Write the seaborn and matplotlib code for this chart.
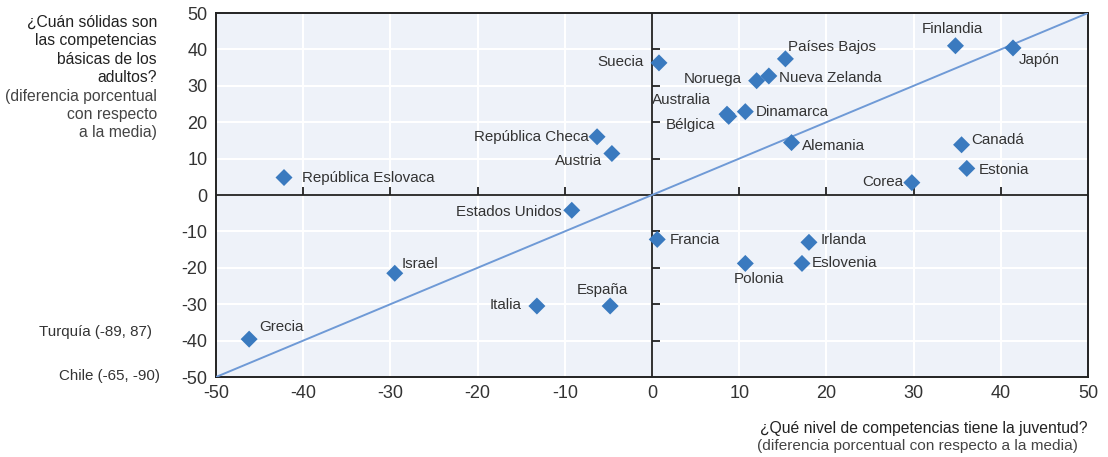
import matplotlib
matplotlib.use("Agg")
import matplotlib.pyplot as plt
import seaborn as sns
import pandas as pd

countries = ["Finlandia", "Japón", "Países Bajos", "Suecia", "Nueva Zelanda", "Noruega",
             "Dinamarca", "Australia", "Bélgica", "Alemania", "Canadá", "Estonia", "Corea",
             "República Checa", "Austria", "República Eslovaca", "Estados Unidos", "Francia",
             "Irlanda", "Polonia", "Eslovenia", "Israel", "Italia", "España", "Grecia"]
youth = [34.8, 41.4, 15.3, 0.8, 13.4, 12.0, 10.7, 8.6, 8.8, 16.0, 35.5, 36.1, 29.8,
         -6.3, -4.6, -42.2, -9.2, 0.6, 18.0, 10.7, 17.2, -29.5, -13.2, -4.8, -46.2]
adults = [41.0, 40.4, 37.4, 36.3, 32.7, 31.4, 22.9, 22.2, 21.6, 14.4, 13.8, 7.3, 3.4,
          16.0, 11.4, 4.8, -4.2, -12.2, -13.0, -18.8, -18.8, -21.5, -30.5, -30.5, -39.6]
ticks = [-50, -40, -30, -20, -10, 0, 10, 20, 30, 40, 50]

y_title_lines = ["¿Cuán sólidas son", "las competencias", "básicas de los", "adultos?"]
y_unit_lines = ["(diferencia porcentual", "con respecto", "a la media)"]
x_title = "¿Qué nivel de competencias tiene la juventud?"
x_unit = "(diferencia porcentual con respecto a la media)"
outliers = ["Turquía (-89, 87)", "Chile (-65, -90)"]

# label placement: (dx px, dy px, ha, va)
label_pos = {
    "Finlandia": (-3, 10, "center", "bottom"),
    "Japón": (6, -12, "left", "center"),
    "Países Bajos": (3, 12, "left", "center"),
    "Suecia": (-15, 1, "right", "center"),
    "Nueva Zelanda": (10, -2, "left", "center"),
    "Noruega": (-15, 2, "right", "center"),
    "Dinamarca": (10, 0, "left", "center"),
    "Australia": (-16, 14, "right", "center"),
    "Bélgica": (-13, -9, "right", "center"),
    "Alemania": (10, -3, "left", "center"),
    "Canadá": (10, 5, "left", "center"),
    "Estonia": (12, -2, "left", "center"),
    "Corea": (-9, 1, "right", "center"),
    "República Checa": (-8, 0, "right", "center"),
    "Austria": (-10, -7, "right", "center"),
    "República Eslovaca": (18, 0, "left", "center"),
    "Estados Unidos": (-10, -2, "right", "center"),
    "Francia": (13, -1, "left", "center"),
    "Irlanda": (12, 2, "left", "center"),
    "Polonia": (14, -16, "center", "center"),
    "Eslovenia": (10, 0, "left", "center"),
    "Israel": (7, 9, "left", "center"),
    "Italia": (-15, 1, "right", "center"),
    "España": (-8, 16, "center", "center"),
    "Grecia": (10, 12, "left", "center"),
}

df = pd.DataFrame({"country": countries, "youth": youth, "adults": adults})

sns.set_style("white")
plt.rcParams["font.family"] = ["Liberation Sans", "DejaVu Sans"]
plt.rcParams["axes.unicode_minus"] = False

W, H = 1108, 457
fig = plt.figure(figsize=(W / 100, H / 100), dpi=100)
ax = fig.add_axes([216 / W, 1 - 377 / H, (1088 - 216) / W, (377 - 13) / H])
ax.set_facecolor("#eef2f9")

ax.set_xlim(-50, 50)
ax.set_ylim(-50, 50)
ax.set_xticks(ticks)
ax.set_yticks(ticks)
ax.grid(True, color="white", lw=1.5)
ax.set_axisbelow(True)
ax.tick_params(length=0, labelsize=13, labelcolor="#333333", pad=6)
for s in ax.spines.values():
    s.set_color("#222222")
    s.set_linewidth(1.4)

# zero lines with ticks
ax.axhline(0, color="#222222", lw=1.3, zorder=2)
ax.axvline(0, color="#222222", lw=1.3, zorder=2)
inner = [t for t in ticks if t not in (-50, 0, 50)]
ax.plot(inner, [0] * len(inner), ls="none", marker=2, ms=6, mew=1.3, color="#222222", zorder=2)
ax.plot([0] * len(inner), inner, ls="none", marker=1, ms=6, mew=1.3, color="#222222", zorder=2)

# diagonal
ax.plot([ticks[0], ticks[-1]], [ticks[0], ticks[-1]], color="#6f9ad6", lw=1.4, zorder=3)

sns.scatterplot(data=df, x="youth", y="adults", marker="D", s=75, color="#3a7abf",
                edgecolor="none", ax=ax, zorder=4, legend=False)
ax.set_xlabel("")
ax.set_ylabel("")

for c, x, y in zip(countries, youth, adults):
    dx, dy, ha, va = label_pos[c]
    ax.annotate(c, (x, y), xytext=(dx, dy), textcoords="offset pixels",
                ha=ha, va=va, fontsize=10.9, color="#333333", zorder=5)

line_y = [22, 41, 60, 78, 97, 115, 133]
for txt, yy in zip(y_title_lines + y_unit_lines, line_y):
    col = "#222222" if txt in y_title_lines else "#444444"
    fig.text(157 / W, 1 - yy / H, txt, ha="right", va="center", fontsize=11.3, color=col)

fig.text(152 / W, 1 - 332 / H, outliers[0], ha="right", va="center",
         fontsize=10.9, color="#333333")
fig.text(160 / W, 1 - 376 / H, outliers[1], ha="right", va="center",
         fontsize=10.9, color="#333333")
fig.text(1088 / W, 1 - 428 / H, x_title, ha="right", va="center", fontsize=11.3, color="#222222")
fig.text(1078 / W, 1 - 446 / H, x_unit, ha="right", va="center", fontsize=11.1, color="#444444")

fig.savefig("out.png", dpi=100)
